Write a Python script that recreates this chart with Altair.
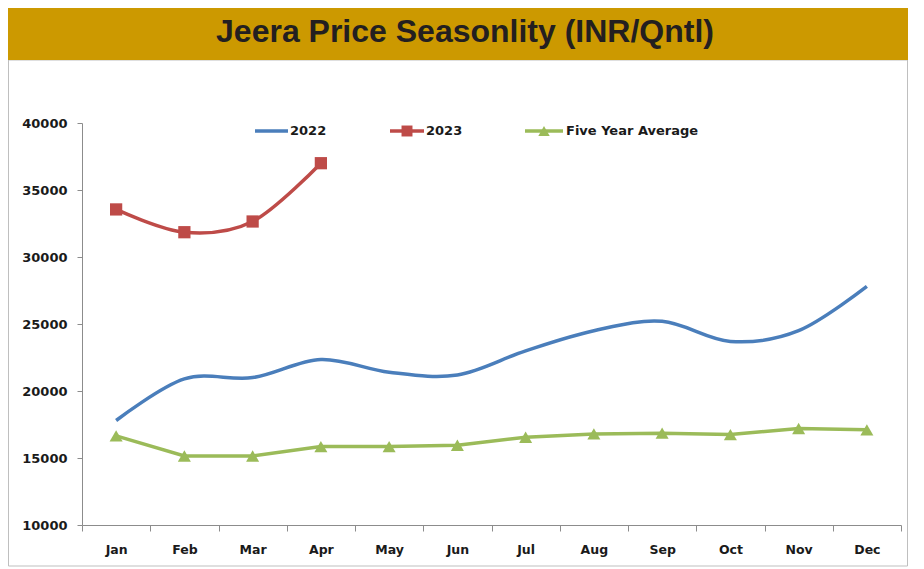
import altair as alt
import pandas as pd

months = ["Jan", "Feb", "Mar", "Apr", "May", "Jun", "Jul", "Aug", "Sep", "Oct", "Nov", "Dec"]
y2022 = [17800, 20900, 21000, 22350, 21400, 21200, 23000, 24500, 25200, 23700, 24500, 27800]
months2023 = ["Jan", "Feb", "Mar", "Apr"]
y2023 = [33550, 31850, 32650, 37000]
avg5 = [16650, 15150, 15150, 15850, 15850, 15950, 16550, 16800, 16850, 16750, 17200, 17100]
y_ticks = [10000, 15000, 20000, 25000, 30000, 35000, 40000]
title_text = "Jeera Price Seasonlity (INR/Qntl)"
series_names = ["2022", "2023", "Five Year Average"]

C22 = "#4A7EBB"
C23 = "#BE4B48"
CAV = "#9BBB59"
LBL_FONT = "DejaVu Sans"

df22 = pd.DataFrame({"Month": months, "Price": y2022})
df23 = pd.DataFrame({"Month": months2023, "Price": y2023})
dfav = pd.DataFrame({"Month": months, "Price": avg5})

xenc = alt.X(
    "Month:N",
    sort=months,
    bandPosition=0.5,
    scale=alt.Scale(type="band", domain=months, paddingInner=0, paddingOuter=0),
    axis=alt.Axis(
        title=None, labelAngle=0, labelPadding=12, tickSize=6, tickBand="extent",
        domainColor="#8C8C8C", tickColor="#8C8C8C", labelFont=LBL_FONT,
        labelFontWeight="bold", labelFontSize=12.5, labelColor="#1A1A1A", grid=False,
    ),
)
yenc = alt.Y(
    "Price:Q",
    scale=alt.Scale(domain=[10000, 40000], nice=False, zero=False),
    axis=alt.Axis(
        title=None, values=y_ticks, format="d", tickSize=5, labelPadding=10,
        domainColor="#8C8C8C", tickColor="#8C8C8C", labelFont=LBL_FONT,
        labelFontWeight="bold", labelFontSize=13, labelColor="#1A1A1A", grid=False,
    ),
)

one = alt.Data(values=[{"a": 1}])

border = alt.Chart(one).mark_rect(fillOpacity=0, stroke="#BFBFBF", strokeWidth=1).encode(
    x=alt.value(-73.5), x2=alt.value(825.5), y=alt.value(-63), y2=alt.value(443))
gold = alt.Chart(one).mark_rect(color="#CC9900").encode(
    x=alt.value(-74), x2=alt.value(826), y=alt.value(-115), y2=alt.value(-63))
title = alt.Chart(one).mark_text(
    text=title_text, font="Liberation Sans", fontWeight="bold", fontSize=32,
    color="#231F20", align="center", baseline="middle").encode(
    x=alt.value(383), y=alt.value(-91))

l22 = alt.Chart(df22).mark_line(interpolate="cardinal", strokeWidth=3.5, color=C22).encode(x=xenc, y=yenc)
l23 = alt.Chart(df23).mark_line(interpolate="cardinal", strokeWidth=3.5, color=C23).encode(x=xenc, y=yenc)
p23 = alt.Chart(df23).mark_point(shape="square", filled=True, size=150, opacity=1, color=C23).encode(x=xenc, y=yenc)
lav = alt.Chart(dfav).mark_line(strokeWidth=3.5, color=CAV).encode(x=xenc, y=yenc)
pav = alt.Chart(dfav).mark_point(shape="triangle-up", filled=True, size=170, opacity=1, color=CAV).encode(x=xenc, y=yenc)

def leg_text(txt, x):
    return alt.Chart(one).mark_text(
        text=txt, font=LBL_FONT, fontWeight="bold", fontSize=13, color="#1A1A1A",
        align="left", baseline="middle").encode(x=alt.value(x), y=alt.value(8))

legend = [
    alt.Chart(one).mark_rule(color=C22, strokeWidth=3.5).encode(x=alt.value(173), x2=alt.value(206), y=alt.value(8)),
    leg_text(series_names[0], 208),
    alt.Chart(one).mark_rule(color=C23, strokeWidth=3.5).encode(x=alt.value(308), x2=alt.value(342), y=alt.value(8)),
    alt.Chart(one).mark_point(shape="square", filled=True, size=120, opacity=1, color=C23).encode(x=alt.value(325), y=alt.value(8)),
    leg_text(series_names[1], 344),
    alt.Chart(one).mark_rule(color=CAV, strokeWidth=3.5).encode(x=alt.value(443), x2=alt.value(481), y=alt.value(8)),
    alt.Chart(one).mark_point(shape="triangle-up", filled=True, size=130, opacity=1, color=CAV).encode(x=alt.value(462), y=alt.value(8)),
    leg_text(series_names[2], 484),
]

chart = alt.layer(border, gold, title, lav, pav, l22, l23, p23, *legend).properties(
    width=819, height=402,
    autosize=alt.AutoSizeParams(type="none"),
    padding={"left": 74, "top": 115, "right": 15, "bottom": 44},
    background="white",
).configure_view(stroke=None)

chart.save("out.html", embed_options={"renderer": "svg", "actions": False})
